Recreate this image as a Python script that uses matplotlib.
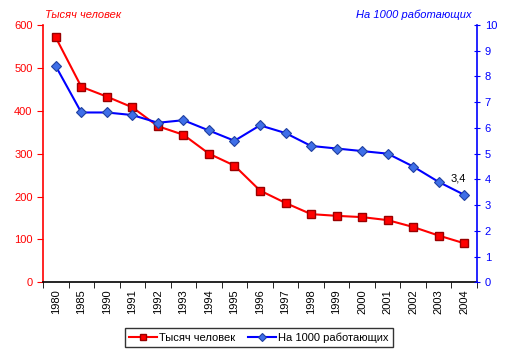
import matplotlib
matplotlib.use("Agg")
import matplotlib.pyplot as plt
import numpy as np

plt.rcParams['font.family'] = ['Liberation Sans', 'DejaVu Sans']

years = ["1980", "1985", "1990", "1991", "1992", "1993", "1994", "1995", "1996",
         "1997", "1998", "1999", "2000", "2001", "2002", "2003", "2004"]
thousands = [571, 456, 433, 408, 364, 344, 300, 272, 214, 185, 159, 155, 152, 145, 129, 109, 91]
per_1000 = [8.4, 6.6, 6.6, 6.5, 6.2, 6.3, 5.9, 5.5, 6.1, 5.8, 5.3, 5.2, 5.1, 5.0, 4.5, 3.9, 3.4]
left_label = "Тысяч человек"
right_label = "На 1000 работающих"
last_label = "3,4"

fig = plt.figure(figsize=(5.13, 3.57), dpi=100)
ax = fig.add_axes([43/513, 1-282.3/357, (477-43)/513, (282.3-25)/357])
ax2 = ax.twinx()

x = np.arange(len(years))
l1, = ax.plot(x, thousands, color='#FF0000', lw=1.5, marker='s', ms=6.3,
              mfc='#FF0000', mec='#990000', mew=1.0, label=left_label, zorder=3)
l2, = ax2.plot(x, per_1000, color='#0000FF', lw=1.5, marker='D', ms=5.6,
               mfc='#3F6FE8', mec='#2040A0', mew=0.8, label=right_label, zorder=3)

ax.set_xlim(-0.5, len(years) - 0.5)
ax.set_ylim(0, 600)
ax2.set_ylim(0, 10)
ax.set_yticks(range(0, 601, 100))
ax2.set_yticks(range(0, 11, 1))

ax.set_xticks(x)
ax.set_xticklabels(years, rotation=90, fontsize=8)
ax.set_xticks(np.arange(-0.5, len(years), 1), minor=True)
ax.tick_params(axis='x', which='major', length=0, pad=5)
ax.tick_params(axis='x', which='minor', length=4, direction='out', color='black')

ax.tick_params(axis='y', colors='#FF0000', labelsize=8, length=4, direction='out')
ax2.tick_params(axis='y', colors='#0000FF', labelsize=8, length=4, direction='inout')

for a in (ax, ax2):
    a.spines['top'].set_visible(False)
ax.spines['right'].set_visible(False)
ax2.spines['left'].set_visible(False)
ax2.spines['bottom'].set_visible(False)
ax.spines['left'].set_color('#FF0000')
ax2.spines['right'].set_color('#0000FF')
ax.spines['bottom'].set_color('black')
for s in ('left', 'bottom'):
    ax.spines[s].set_linewidth(1.2)
ax2.spines['right'].set_linewidth(1.2)

fig.text(45/513, 1-14.5/357, left_label, color='#FF0000', fontsize=8, style='italic',
         ha='left', va='center')
fig.text(472/513, 1-14.5/357, right_label, color='#0000FF', fontsize=8, style='italic',
         ha='right', va='center')

ax2.annotate(last_label, (x[-1], per_1000[-1]), xytext=(-4, 8), textcoords='offset points',
             ha='center', va='bottom', fontsize=8, color='black')

leg = fig.legend(handles=[l1, l2], loc='center', bbox_to_anchor=(259/513, 1-337.5/357),
                 ncol=2, fontsize=8, frameon=True, fancybox=False, handlelength=2.5,
                 columnspacing=1.2, handletextpad=0.2, borderpad=0.4, markerscale=0.75)
leg.get_frame().set_edgecolor('black')
leg.get_frame().set_linewidth(1.0)

fig.savefig("out.png", dpi=100)
